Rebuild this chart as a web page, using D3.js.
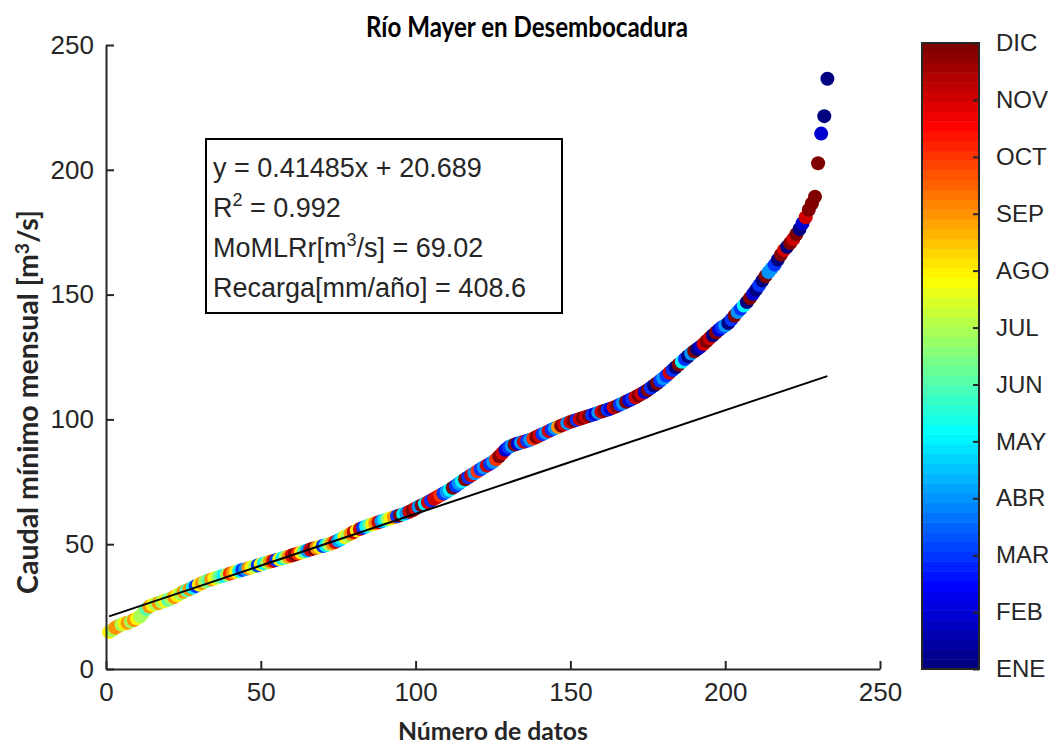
<!DOCTYPE html>
<html><head><meta charset="utf-8">
<script src="https://cdn.jsdelivr.net/npm/d3@7"></script>
<style>body{margin:0;background:#fff;} svg{display:block;}</style>
</head><body><svg id="c" width="1052" height="745"></svg>
<script>
// Caudal mínimo mensual ordenado (m3/s)
const caudal = [
14.8,15.5,16.5,17.2,17.8,18.2,18.5,19.0,19.6,20.3,
21.0,22.5,24.0,25.0,25.6,26.0,26.4,26.9,27.3,27.7,
28.2,28.8,29.5,30.2,30.9,31.5,32.0,32.6,33.2,33.8,
34.4,35.0,35.5,35.9,36.3,36.7,37.1,37.4,37.8,38.2,
38.6,39.0,39.3,39.7,40.0,40.4,40.7,41.1,41.5,41.9,
42.3,42.6,43.0,43.3,43.7,44.0,44.4,44.7,45.1,45.5,
45.9,46.3,46.7,47.1,47.5,47.9,48.3,48.6,49.0,49.3,
49.6,50.0,50.4,50.9,51.5,52.2,52.9,53.5,54.2,54.9,
55.5,56.1,56.6,57.1,57.6,58.0,58.4,58.8,59.2,59.6,
60.0,60.4,60.8,61.2,61.6,62.0,62.5,63.0,63.6,64.3,
65.0,65.6,66.2,66.8,67.5,68.2,68.9,69.6,70.3,71.0,
71.8,72.6,73.4,74.3,75.2,76.0,76.8,77.6,78.4,79.2,
80.0,80.8,81.5,82.2,83.0,84.0,85.2,86.5,87.8,88.8,
89.4,89.9,90.3,90.7,91.0,91.4,91.8,92.3,92.9,93.5,
94.1,94.7,95.3,95.9,96.5,97.0,97.5,98.0,98.5,99.0,
99.4,99.8,100.2,100.6,101.0,101.4,101.8,102.2,102.7,103.1,
103.5,103.9,104.3,104.8,105.3,105.9,106.5,107.1,107.7,108.3,
108.9,109.6,110.3,111.0,111.8,112.7,113.6,114.5,115.5,116.5,
117.6,118.7,119.8,120.9,122.0,123.1,124.2,125.3,126.4,127.3,
128.2,129.1,130.2,131.4,132.6,133.7,134.8,135.9,136.9,137.6,
138.6,140.0,141.5,143.0,144.3,145.6,147.0,148.6,150.3,152.0,
153.8,155.6,157.4,159.0,160.5,162.0,164.0,166.0,167.8,169.2,
170.7,172.3,174.2,176.3,178.6,181.0,184.0,186.5,189.2,202.6,
214.5,221.5,236.5
];
// Mes de cada dato (1 = ENE ... 12 = DIC)
const mes = [
8,7,9,9,7,8,9,7,9,8, 7,7,6,9,8,7,9,7,8,6, 7,9,8,7,9,6,9,5,3,8, 9,7,6,9,8,7,6,5,7,10,
9,8,5,3,4,9,8,7,3,8, 5,7,9,11,3,8,5,7,9,11, 12,10,8,6,4,11,12,9,8,3, 5,7,9,11,4,5,8,7,9,11,
8,11,3,5,6,8,9,11,4,5, 7,8,9,3,12,5,4,11,12,11, 4,12,5,11,3,11,11,10,3,4, 5,12,3,4,5,12,3,11,4,10,
3,4,11,3,4,10,12,11,2,3, 4,12,2,4,11,3,4,10,12,11, 3,4,11,3,4,9,12,11,4,11, 12,3,11,12,11,12,3,2,4,11,
12,3,2,11,12,3,4,12,2,3, 11,12,11,2,12,3,1,12,3,4, 3,11,3,1,12,5,3,1,4,12, 1,2,11,12,11,1,12,2,3,4,
1,3,12,4,3,5,1,12,2,1, 3,1,12,4,4,3,1,12,11,1, 12,11,12,1,2,11,12,12,12,12, 2,1,1
];
const xTicks = [0,50,100,150,200,250];
const yTicks = [0,50,100,150,200,250];
const monthLabels = ["ENE","FEB","MAR","ABR","MAY","JUN","JUL","AGO","SEP","OCT","NOV","DIC"];
const slope = 0.41485, intercept = 20.689;
const titleText = "Río Mayer en Desembocadura";
const xLabelText = "Número de datos";

const svg = d3.select("#c");
const L = 106, R = 880, T = 45, B = 669;
const axisCol = "#262626";
const tickFont = "'Liberation Sans', Arial, sans-serif";
const boldFont = "Lato, 'Open Sans', sans-serif";

const x = d3.scaleLinear().domain([0,250]).range([L,R]);
const y = d3.scaleLinear().domain([0,250]).range([B,T]);

function jet(t){
  const c = v => Math.max(0, Math.min(1, v));
  const r = c(Math.min(4*t-1.5, -4*t+4.5));
  const g = c(Math.min(4*t-0.5, -4*t+3.5));
  const b = c(Math.min(4*t+0.5, -4*t+2.5));
  return d3.rgb(r*255, g*255, b*255).toString();
}
const cScale = d3.scaleLinear().domain([1,12]).range([0,1]).clamp(true);
const color = m => jet(Math.min(63, Math.floor(cScale(m)*64))/63);

const data = caudal.map((v,i)=>({n:i+1, v, m:mes[i]}));

// points
svg.append("g").selectAll("circle").data(data).join("circle")
  .attr("cx", d=>x(d.n)).attr("cy", d=>y(d.v)).attr("r", 7)
  .attr("fill", d=>color(d.m));

// regression line
const n0 = 1, n1 = data.length;
svg.append("line")
  .attr("x1", x(n0)).attr("y1", y(slope*n0+intercept))
  .attr("x2", x(n1)).attr("y2", y(slope*n1+intercept))
  .attr("stroke", "#000").attr("stroke-width", 2);

// axes
const xAxis = d3.axisBottom(x).tickValues(xTicks).tickSizeInner(-8).tickSizeOuter(0).tickPadding(14);
const yAxis = d3.axisLeft(y).tickValues(yTicks).tickSizeInner(-8).tickSizeOuter(0).tickPadding(12);
const gx = svg.append("g").attr("transform", `translate(0,${B})`).call(xAxis);
const gy = svg.append("g").attr("transform", `translate(${L},0)`).call(yAxis);
[gx, gy].forEach(g => {
  g.select(".domain").attr("stroke", axisCol).attr("stroke-width", 2);
  g.selectAll(".tick line").attr("stroke", axisCol).attr("stroke-width", 2);
  g.selectAll(".tick text").attr("fill", axisCol).style("font-family", tickFont).style("font-size", "26px");
});

function fit(sel, target){
  const w = sel.node().getComputedTextLength();
  const fs = parseFloat(sel.style("font-size"));
  sel.style("font-size", (fs*target/w) + "px");
}

// title (slightly condensed to mimic the narrow bold face)
const title = svg.append("text").attr("x", 527).attr("y", 37).attr("text-anchor","middle")
  .style("font-family", boldFont).style("font-weight","bold").style("font-size","29px")
  .attr("textLength", 322).attr("lengthAdjust","spacingAndGlyphs")
  .attr("fill","#000").text(titleText);

// x label
const xl = svg.append("text").attr("x", 493).attr("y", 740).attr("text-anchor","middle")
  .style("font-family", boldFont).style("font-weight","bold").style("font-size","25px")
  .attr("textLength", 190).attr("lengthAdjust","spacingAndGlyphs")
  .attr("fill", axisCol).text(xLabelText);

// y label
const yl = svg.append("text").attr("transform","translate(38,402) rotate(-90)").attr("text-anchor","middle")
  .style("font-family", boldFont).style("font-weight","bold").style("font-size","22px")
  .attr("fill", axisCol);
yl.append("tspan").text("Caudal mínimo mensual [m");
yl.append("tspan").attr("dy",-9).style("font-size","15px").text("3");
yl.append("tspan").attr("dy",9).text("/s]");
{
  const w = yl.node().getComputedTextLength();
  const k = 384 / w;
  yl.style("font-size", (22*k)+"px");
  yl.selectAll("tspan").filter((d,i)=>i===1).style("font-size",(15*k)+"px");
}

// text box
svg.append("rect").attr("x",206).attr("y",139).attr("width",356).attr("height",174)
  .attr("fill","#fff").attr("stroke","#000").attr("stroke-width",2);
function boxLine(yy, parts){
  const t = svg.append("text").attr("x", 213).attr("y", yy)
    .style("font-family", tickFont).style("font-size", "27px").attr("fill","#262626");
  let shift = 0;
  parts.forEach(p => {
    const s = t.append("tspan").text(p.t);
    if (p.sup) { s.attr("dy", -11).style("font-size","18px"); shift = 11; }
    else if (shift) { s.attr("dy", shift); shift = 0; }
  });
}
boxLine(177, [{t:`y = ${slope}x + ${intercept}`}]);
boxLine(217, [{t:"R"},{t:"2",sup:true},{t:" = 0.992"}]);
boxLine(257, [{t:"MoMLRr[m"},{t:"3",sup:true},{t:"/s] = 69.02"}]);
boxLine(297, [{t:"Recarga[mm/año] = 408.6"}]);

// colorbar
const cbL = 922, cbR = 979, cbT = 43, cbB = 669;
const cy = d3.scaleLinear().domain([1,12]).range([cbB, cbT]);
const bands = d3.range(64);
const bandH = (cbB - cbT)/64;
svg.append("g").selectAll("rect").data(bands).join("rect")
  .attr("x", cbL).attr("width", cbR-cbL)
  .attr("y", i => cbB - (i+1)*bandH).attr("height", bandH+0.5)
  .attr("fill", i => jet(i/63));
svg.append("rect").attr("x",cbL).attr("y",cbT).attr("width",cbR-cbL).attr("height",cbB-cbT)
  .attr("fill","none").attr("stroke",axisCol).attr("stroke-width",2);
const cAxis = d3.axisRight(cy).tickValues(d3.range(1,13)).tickFormat(d=>monthLabels[d-1])
  .tickSizeInner(-6).tickSizeOuter(0).tickPadding(17);
const gc = svg.append("g").attr("transform",`translate(${cbR},0)`).call(cAxis);
gc.select(".domain").remove();
gc.selectAll(".tick line").attr("stroke", axisCol).attr("stroke-width", 2);
gc.selectAll(".tick text").attr("fill", axisCol).style("font-family", tickFont).style("font-size","24px");
</script>
</body></html>
